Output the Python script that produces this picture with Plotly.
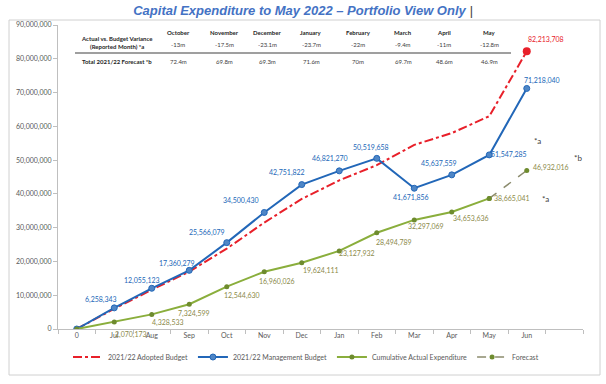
import plotly.graph_objects as go

# ---------------- data ----------------
months = ["0", "Jul", "Aug", "Sep", "Oct", "Nov", "Dec", "Jan", "Feb", "Mar", "Apr", "May", "Jun"]
adopted_budget = [0, 6000000, 11600000, 17000000, 23800000, 31500000, 38500000, 44000000,
                  48500000, 54500000, 58000000, 63000000, 82213708]
management_budget = [0, 6258343, 12055123, 17360279, 25566079, 34500430, 42751822, 46821270,
                     50519658, 41671856, 45637559, 51547285, 71218040]
actual_expenditure = [0, 2070173, 4328533, 7324599, 12544630, 16960026, 19624111, 23127932,
                      28494789, 32297069, 34653636, 38665041]
forecast_months = ["May", "Jun"]
forecast_values = [38665041, 46932016]

table_months = ["October", "November", "December", "January", "February", "March", "April", "May"]
table_variance = ["-13m", "-17.5m", "-23.1m", "-23.7m", "-22m", "-9.4m", "-11m", "-12.8m"]
table_forecast = ["72.4m", "69.8m", "69.3m", "71.6m", "70m", "69.7m", "48.6m", "46.9m"]

y_ticks = [0, 10000000, 20000000, 30000000, 40000000, 50000000, 60000000, 70000000, 80000000, 90000000]

# ---------------- styles ----------------
RED = "#E8202A"
BLUE = "#2267B8"
BLUE_M = "#4F86C6"
GREEN = "#8AAE3C"
GREEN_M = "#6E8B2E"
OLIVE_TXT = "#8C8A4A"
FC_LINE = "#8C8C6E"
FONT = "Lato"
AX = "#BFBFBF"
TXT = "#595959"

W, H = 606, 384
L, R, T, B = 58, 23, 25, 55
PW, PH = W - L - R, H - T - B

def px(x):
    return (x - L) / PW

def py(y):
    return (H - B - y) / PH

xi = list(range(len(months)))
idx = {m: i for i, m in enumerate(months)}

fig = go.Figure()
fig.add_trace(go.Scatter(x=xi, y=adopted_budget, mode="lines", name="2021/22 Adopted Budget",
                         line=dict(color=RED, width=2, dash="dashdot")))
fig.add_trace(go.Scatter(x=[xi[-1]], y=[adopted_budget[-1]], mode="markers", showlegend=False,
                         marker=dict(color=RED, size=8)))
fig.add_trace(go.Scatter(x=xi, y=management_budget, mode="lines+markers", name="2021/22 Management Budget",
                         line=dict(color=BLUE, width=2),
                         marker=dict(color=BLUE_M, size=6, line=dict(color=BLUE, width=1))))
fig.add_trace(go.Scatter(x=xi[:len(actual_expenditure)], y=actual_expenditure, mode="lines+markers",
                         name="Cumulative Actual Expenditure",
                         line=dict(color=GREEN, width=2), marker=dict(color=GREEN_M, size=5)))
fig.add_trace(go.Scatter(x=[idx[m] for m in forecast_months], y=forecast_values, mode="lines+markers",
                         name="Forecast", line=dict(color=FC_LINE, width=1.5, dash="dash"),
                         marker=dict(color=GREEN_M, size=5)))

def fmt(v):
    return f"{v:,}"

def note(x, y, text, size=6, color="#404040"):
    return dict(x=px(x), y=py(y), xref="paper", yref="paper", text=text, showarrow=False,
                xanchor="center", yanchor="middle", font=dict(family=FONT, size=size, color=color))

ann = []
blue_off = [None, (-13, -8), (-10, -8), (-12, -7), (-20, -10), (-23, -12), (-15, -12), (-9, -12),
            (-6, -11), (-3, 9), (-13, -11), (20, 0), (15, -8)]
for i, v in enumerate(management_budget):
    if blue_off[i] is None:
        continue
    dx, dy = blue_off[i]
    ann.append(dict(x=xi[i], y=v, xref="x", yref="y", text=fmt(v), showarrow=False,
                    xanchor="center", yanchor="middle",
                    xshift=dx, yshift=-dy, font=dict(family=FONT, size=7, color=BLUE)))
green_off = [None, (17, 12), (16, 8), (5, 9), (15, 9), (13, 10), (19, 8), (18, 3), (17, 10),
             (12, 7), (19, 7), (23, 0)]
for i, v in enumerate(actual_expenditure):
    if green_off[i] is None:
        continue
    dx, dy = green_off[i]
    ann.append(dict(x=xi[i], y=v, xref="x", yref="y", text=fmt(v), showarrow=False,
                    xanchor="center", yanchor="middle",
                    xshift=dx, yshift=-dy, font=dict(family=FONT, size=7, color=OLIVE_TXT)))
ann.append(dict(x=idx["Jun"], y=forecast_values[-1], xref="x", yref="y", text=fmt(forecast_values[-1]),
                showarrow=False, xanchor="center", yanchor="middle", xshift=24, yshift=3,
                font=dict(family=FONT, size=7, color=OLIVE_TXT)))
ann.append(dict(x=xi[-1], y=adopted_budget[-1], xref="x", yref="y", text=fmt(adopted_budget[-1]),
                showarrow=False, xanchor="center", yanchor="middle", xshift=19, yshift=12,
                font=dict(family=FONT, size=7, color=RED)))

# notes
for t, x, y in [("*a", 537, 141), ("*b", 578, 158), ("*a", 545, 199)]:
    ann.append(note(x, y, t, size=8, color="#404040"))

# table
col_x = [178, 224, 267, 311, 358, 403, 444, 489]
for m, v, f, cx in zip(table_months, table_variance, table_forecast, col_x):
    ann.append(note(cx, 33, f"<b>{m}</b>", color="#262626"))
    ann.append(note(cx, 44, v))
    ann.append(note(cx, 61, f))
ann.append(note(117, 39, "<b>Actual vs. Budget Variance</b>", color="#262626"))
ann.append(note(117, 47, "<b>(Reported Month) *a</b>", color="#262626"))
ann.append(note(117, 61, "<b>Total 2021/22 Forecast *b</b>", color="#262626"))

shapes = [
    dict(type="line", xref="paper", yref="paper", x0=px(75), x1=px(511), y0=py(53), y1=py(53),
         line=dict(color="#7F7F7F", width=1.5)),
    dict(type="rect", xref="paper", yref="paper", x0=px(9), x1=px(600), y0=py(20), y1=py(375),
         line=dict(color="#D0D0D0", width=1)),
]

fig.update_layout(
    width=W, height=H,
    margin=dict(l=L, r=R, t=T, b=B),
    paper_bgcolor="white", plot_bgcolor="white",
    title=dict(text="<b><i>Capital Expenditure to May 2022 – Portfolio View Only</i></b> <span style='color:#404040'><i>|</i></span>",
               x=0.5, xref="container", xanchor="center", y=1 - 10 / H, yanchor="middle",
               font=dict(family="Liberation Sans", size=13, color="#4472C4")),
    xaxis=dict(range=[-0.5, 13.5], tickmode="array", tickvals=xi, ticktext=months,
               showgrid=False, zeroline=False, showline=True, linecolor=AX, linewidth=1,
               ticks="", tickfont=dict(family=FONT, size=7, color=TXT),
               minor=dict(tickmode="linear", tick0=-0.5, dtick=1, ticks="outside", ticklen=4,
                          tickcolor=AX, showgrid=False)),
    yaxis=dict(range=[0, 90000000], tickmode="array", tickvals=y_ticks,
               ticktext=[fmt(v) for v in y_ticks], showgrid=False, zeroline=False,
               showline=True, linecolor=AX, linewidth=1, ticks="outside", ticklen=4,
               tickcolor=AX, tickfont=dict(family=FONT, size=7, color=TXT)),
    legend=dict(orientation="h", x=px(306), xanchor="center", y=py(357), yanchor="middle",
                font=dict(family=FONT, size=7, color=TXT), itemwidth=30, tracegroupgap=0,
                bgcolor="rgba(0,0,0,0)"),
    annotations=ann, shapes=shapes,
)

fig.write_html("out.html", config={"displayModeBar": False},
               post_script="document.body.style.margin='0';")
